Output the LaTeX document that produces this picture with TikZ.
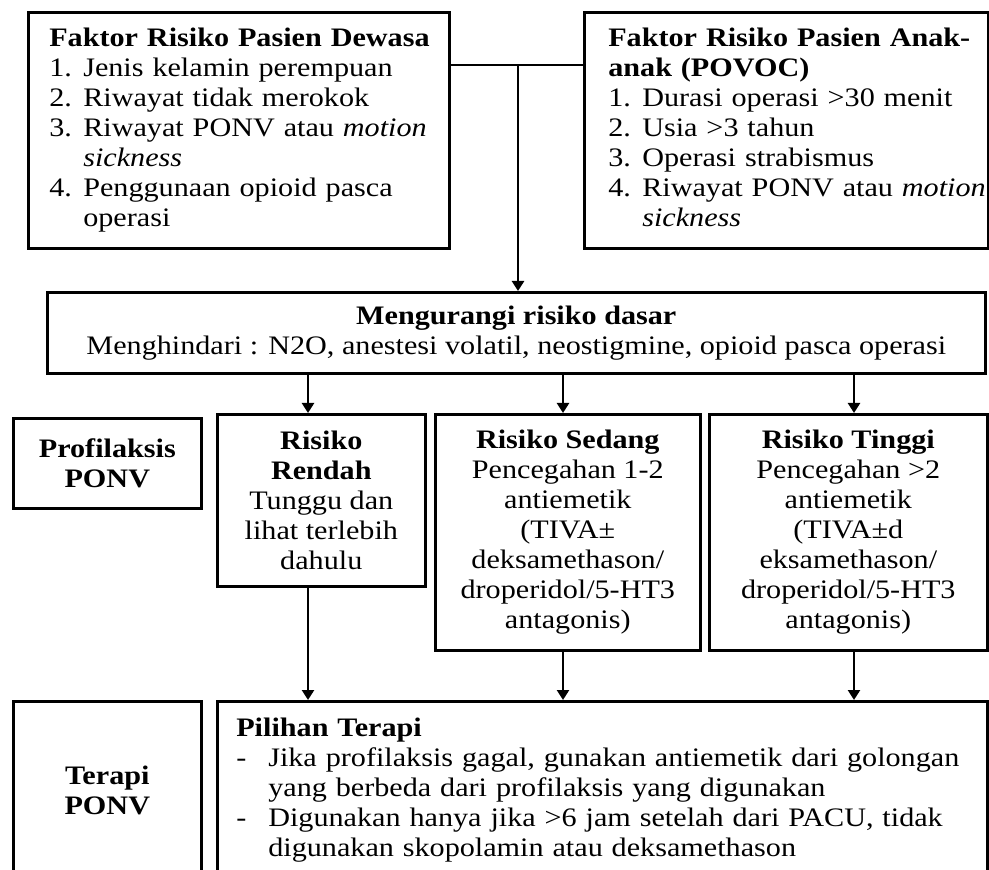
\documentclass[tikz,border=0pt]{standalone}
\usepackage{fontspec}
\setmainfont{Liberation Serif}[FakeStretch=1.13]
\usepackage{tikz}
\usetikzlibrary{arrows.meta,positioning}
\definecolor{ink}{HTML}{000000}
\tikzset{
  box/.style={draw=ink,line width=1.3pt,inner ysep=0pt,text=ink,font=\fontsize{13.35}{15}\selectfont},
  listbox/.style={box,anchor=north west,align=left,inner xsep=#1},
  midbox/.style={box,anchor=north west,align=center,inner xsep=2pt},
  arrow/.style={-{Triangle[length=5pt,width=6pt]},line width=1.2pt,draw=ink},
  link/.style={line width=0.6pt,draw=ink},
}
\newcommand{\hd}[1]{\multicolumn{2}{@{}l@{}}{\textbf{#1}}}
\newcommand{\nr}[1]{\makebox[17pt][l]{#1}}
\newcommand{\dashitem}{\hangindent=16pt\hangafter=1\noindent\makebox[16pt][l]{-}}

\begin{document}
\begin{tikzpicture}[x=0.5pt,y=-0.5pt]
    \path[use as bounding box,clip] (0,0) rectangle (989,870);
    \node[listbox=10.5pt,text width=189.5pt,minimum height=118pt] (adult) at (27,11) {%
      \begin{tabular}{@{}l@{}l@{}}
        \hd{Faktor Risiko Pasien Dewasa}\\
        \nr{1.}&Jenis kelamin perempuan\\
        \nr{2.}&Riwayat tidak merokok\\
        \nr{3.}&Riwayat PONV atau \textit{motion}\\
        &\textit{sickness}\\
        \nr{4.}&Penggunaan opioid pasca\\
        &operasi
      \end{tabular}};
    \node[listbox=12pt,text width=178pt,minimum height=118pt] (child) at (583,11) {%
      \begin{tabular}{@{}l@{}l@{}}
        \hd{Faktor Risiko Pasien Anak-}\\
        \hd{anak (POVOC)}\\
        \nr{1.}&Durasi operasi >30 menit\\
        \nr{2.}&Usia >3 tahun\\
        \nr{3.}&Operasi strabismus\\
        \nr{4.}&Riwayat PONV atau \textit{motion}\\
        &\textit{sickness}
      \end{tabular}};
    \coordinate (jn) at (518,65);
    \node[midbox,minimum width=469pt,minimum height=40.5pt] (base) at (46,291)
      {\textbf{Mengurangi risiko dasar}\\Menghindari : N2O, anestesi volatil, neostigmine, opioid pasca operasi};
    \node[midbox,minimum width=94pt,minimum height=45pt] (profil) at (12,417) {\textbf{Profilaksis}\\\textbf{PONV}};
    \node[midbox,minimum width=104pt,minimum height=86pt] (rendah) at (216,413)
      {\textbf{Risiko}\\\textbf{Rendah}\\Tunggu dan\\lihat terlebih\\dahulu};
    \node[midbox,minimum width=132.5pt,minimum height=118pt] (sedang) at (434,413)
      {\textbf{Risiko Sedang}\\Pencegahan 1-2\\antiemetik\\(TIVA±\\deksamethason/\\droperidol/5-HT3\\antagonis)};
    \node[midbox,minimum width=139pt,minimum height=118pt] (tinggi) at (708,413)
      {\textbf{Risiko Tinggi}\\Pencegahan >2\\antiemetik\\(TIVA±d\\eksamethason/\\droperidol/5-HT3\\antagonis)};
    \node[midbox,minimum width=94pt,minimum height=89pt] (terapi) at (12,700) {\textbf{Terapi}\\\textbf{PONV}};
    \node[listbox=9.5pt,text width=366pt,minimum height=89pt] (pilihan) at (216,700) {%
      \noindent\textbf{Pilihan Terapi}\par
      \dashitem Jika profilaksis gagal, gunakan antiemetik dari golongan\linebreak yang berbeda dari profilaksis yang digunakan\par
      \dashitem Digunakan hanya jika >6 jam setelah dari PACU, tidak\linebreak digunakan skopolamin atau deksamethason\par};
    \draw[link] (adult.east |- jn) -- (child.west |- jn);
    \draw[arrow,line width=1.4pt] (jn) -- (jn |- base.north);
    \coordinate (c1) at (308,0);
    \coordinate (c2) at (563,0);
    \coordinate (c3) at (854,0);
    \draw[arrow] (c1 |- base.south) -- (c1 |- rendah.north);
    \draw[arrow] (c2 |- base.south) -- (c2 |- sedang.north);
    \draw[arrow] (c3 |- base.south) -- (c3 |- tinggi.north);
    \draw[arrow] (c1 |- rendah.south) -- (c1 |- pilihan.north);
    \draw[arrow] (c2 |- sedang.south) -- (c2 |- pilihan.north);
    \draw[arrow] (c3 |- tinggi.south) -- (c3 |- pilihan.north);
  \end{tikzpicture}
\end{document}
